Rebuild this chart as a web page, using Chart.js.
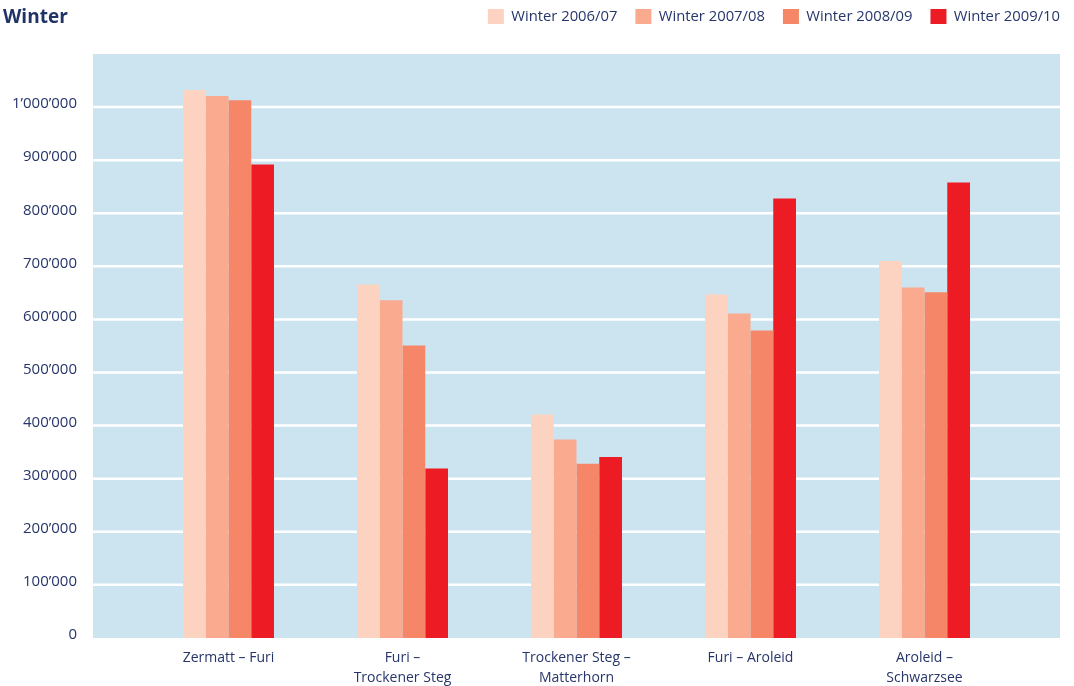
<!DOCTYPE html>
<html>
<head>
<meta charset="utf-8">
<script src="https://cdn.jsdelivr.net/npm/chart.js@4.4.1/dist/chart.umd.min.js"></script>
<style>
    html, body { margin: 0; padding: 0; background: #fff; }
    #wrap { position: relative; width: 1074px; height: 686px; overflow: hidden; }
    #title {
        position: absolute; left: 3px; top: 3px;
        font: bold 19px "Open Sans", sans-serif;
        color: #1f3366;
    }
</style>
</head>
<body>
<div id="wrap">
    <canvas id="winterChart" width="1074" height="686"></canvas>
    <div id="title">Winter</div>
</div>
<script>
// passengers per section, winter seasons
var sections = ['Zermatt – Furi', ['Furi –', 'Trockener Steg'], ['Trockener Steg –', 'Matterhorn'], 'Furi – Aroleid', ['Aroleid –', 'Schwarzsee']];
var seasons = ['Winter 2006/07', 'Winter 2007/08', 'Winter 2008/09', 'Winter 2009/10'];

var winter0607 = [1032000, 666000, 421000, 647000, 710000];
var winter0708 = [1021000, 636000, 374000, 611000, 660000];
var winter0809 = [1013000, 551000, 328000, 579000, 651000];
var winter0910 = [892000, 319000, 341000, 828000, 858000];

var yMin = 0, yMax = 1100000, yStep = 100000;

var seasonColors = ['#fcd3c1', '#f9aa8f', '#f58667', '#ed1c24'];
var navy = '#26356a';

function formatTick(v) {
    if (v >= yMax) return '';
    return String(v).replace(/\B(?=(\d{3})+(?!\d))/g, '\u2019');
}

// no extra room for half tick labels at the ends
function noEndPadding(s) {
    s.paddingTop = 0;
    s.paddingBottom = 0;
    s.paddingLeft = 0;
    s.paddingRight = 0;
}

// light blue panel + white grid lines, a bit wider than the chart area
var panelPlugin = {
    id: 'panel',
    beforeDraw: function (chart) {
        var ctx = chart.ctx, ca = chart.chartArea, y = chart.scales.y;
        ctx.save();
        ctx.fillStyle = '#cce4ef';
        ctx.fillRect(ca.left - 48.5, ca.top, ca.width + 97, ca.bottom - ca.top);
        ctx.strokeStyle = '#ffffff';
        ctx.lineWidth = 2.5;
        y.ticks.forEach(function (t) {
            if (t.value <= yMin || t.value >= yMax) return;
            var py = y.getPixelForValue(t.value);
            ctx.beginPath();
            ctx.moveTo(ca.left - 48.5, py);
            ctx.lineTo(ca.right + 48.5, py);
            ctx.stroke();
        });
        ctx.restore();
    }
};

var datasets = [winter0607, winter0708, winter0809, winter0910].map(function (d, i) {
    return {
        label: seasons[i],
        data: d,
        backgroundColor: seasonColors[i],
        borderWidth: 0,
        categoryPercentage: 0.523,
        barPercentage: 1.0
    };
});

var ctx = document.getElementById('winterChart').getContext('2d');
window.winterChart = new Chart(ctx, {
    type: 'bar',
    data: { labels: sections, datasets: datasets },
    plugins: [panelPlugin],
    options: {
        responsive: false,
        animation: false,
        layout: { padding: { top: -9, right: -4, bottom: -12, left: 0 } },
        plugins: {
            tooltip: { enabled: false },
            legend: {
                position: 'top',
                align: 'end',
                labels: {
                    boxWidth: 16,
                    boxHeight: 15,
                    padding: 18,
                    color: navy,
                    font: { family: '"Open Sans", sans-serif', size: 14.8 }
                }
            }
        },
        scales: {
            x: {
                grid: { display: false, drawTicks: false },
                border: { display: false },
                ticks: {
                    color: navy,
                    padding: 10,
                    maxRotation: 0,
                    autoSkip: false,
                    font: { family: '"Open Sans", sans-serif', size: 14, lineHeight: 1.43 }
                },
                afterFit: noEndPadding
            },
            xTop: {
                type: 'category',
                position: 'top',
                grid: { display: false, drawTicks: false },
                border: { display: false },
                ticks: { display: false },
                afterFit: function (s) { s.height = 20; noEndPadding(s); }
            },
            y: {
                min: yMin,
                max: yMax,
                grid: { display: false, drawTicks: false },
                border: { display: false },
                ticks: {
                    stepSize: yStep,
                    color: navy,
                    padding: 64.5,
                    labelOffset: -3,
                    font: { family: '"Open Sans", sans-serif', size: 15 },
                    callback: formatTick
                },
                afterFit: function (s) { s.width = 141.5; noEndPadding(s); }
            },
            yRight: {
                type: 'linear',
                position: 'right',
                grid: { display: false, drawTicks: false },
                border: { display: false },
                ticks: { display: false },
                afterFit: function (s) { s.width = 66.5; noEndPadding(s); }
            }
        }
    }
});
</script>
</body>
</html>
